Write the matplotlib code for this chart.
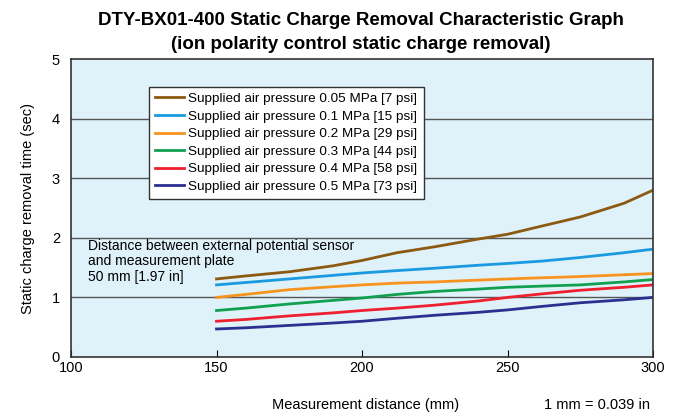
import matplotlib
matplotlib.use("Agg")
import matplotlib.pyplot as plt

plt.rcParams["font.family"] = ["Liberation Sans", "DejaVu Sans"]

distance = [150, 160, 175, 190, 200, 212, 225, 240, 250, 262, 275, 290, 300]
pressures = ["0.05 MPa [7 psi]", "0.1 MPa [15 psi]", "0.2 MPa [29 psi]",
             "0.3 MPa [44 psi]", "0.4 MPa [58 psi]", "0.5 MPa [73 psi]"]
t_005 = [1.31, 1.36, 1.43, 1.53, 1.62, 1.75, 1.85, 1.98, 2.06, 2.20, 2.35, 2.58, 2.80]
t_01 = [1.21, 1.25, 1.31, 1.37, 1.41, 1.45, 1.49, 1.54, 1.57, 1.61, 1.67, 1.75, 1.81]
t_02 = [1.00, 1.05, 1.13, 1.18, 1.21, 1.24, 1.26, 1.29, 1.31, 1.33, 1.35, 1.38, 1.40]
t_03 = [0.78, 0.82, 0.89, 0.95, 0.99, 1.05, 1.10, 1.14, 1.17, 1.19, 1.21, 1.26, 1.30]
t_04 = [0.60, 0.63, 0.69, 0.74, 0.78, 0.82, 0.87, 0.94, 1.00, 1.06, 1.12, 1.17, 1.21]
t_05 = [0.47, 0.49, 0.53, 0.57, 0.60, 0.65, 0.70, 0.75, 0.79, 0.85, 0.91, 0.96, 1.00]
colors = ["#8b5a10", "#1a9ae0", "#f7941d", "#10a050", "#ee2030", "#2a3090"]

fig = plt.figure(figsize=(6.84, 4.19), dpi=100)
ax = fig.add_axes([0.1038, 0.148, 0.851, 0.711])
ax.set_facecolor("#dff1f9")

for series, label, c in zip([t_005, t_01, t_02, t_03, t_04, t_05], pressures, colors):
    ax.plot(distance, series, color=c, lw=2.0, label=f"Supplied air pressure {label}")

ax.set_xlim(100, 300)
ax.set_ylim(0, 5)
ax.set_xticks([100, 150, 200, 250, 300])
ax.set_yticks([0, 1, 2, 3, 4, 5])
for y in [1, 2, 3, 4]:
    ax.axhline(y, color="#555555", lw=1.0, zorder=0.5)
ax.tick_params(axis="x", direction="in", length=5, width=0.8, labelsize=10.5, pad=3)
ax.tick_params(axis="y", length=0, labelsize=10.5, pad=8)
for s in ax.spines.values():
    s.set_color("#333333")
    s.set_linewidth(1.2)

ax.set_ylabel("Static charge removal time (sec)", fontsize=10.5, labelpad=12)
fig.text(0.534, 0.033, "Measurement distance (mm)", ha="center", va="center", fontsize=10.5)
fig.text(0.95, 0.033, "1 mm = 0.039 in", ha="right", va="center", fontsize=10.5)

fig.text(0.527, 0.951, "DTY-BX01-400 Static Charge Removal Characteristic Graph",
         ha="center", va="center", fontsize=13.5, fontweight="bold")
fig.text(0.527, 0.894, "(ion polarity control static charge removal)",
         ha="center", va="center", fontsize=13.5, fontweight="bold")

ax.text(0.03, 0.395, "Distance between external potential sensor\nand measurement plate\n50 mm [1.97 in]",
        transform=ax.transAxes, ha="left", va="top", fontsize=10, linespacing=1.1)

leg = ax.legend(loc="upper left", bbox_to_anchor=(0.122, 0.93), fontsize=9.7,
                handlelength=2.2, handletextpad=0.3, labelspacing=0.38,
                borderpad=0.45, frameon=True, fancybox=False, framealpha=1)
leg.get_frame().set_edgecolor("#333333")
leg.get_frame().set_linewidth(1.0)

fig.savefig("out.png", dpi=100)
